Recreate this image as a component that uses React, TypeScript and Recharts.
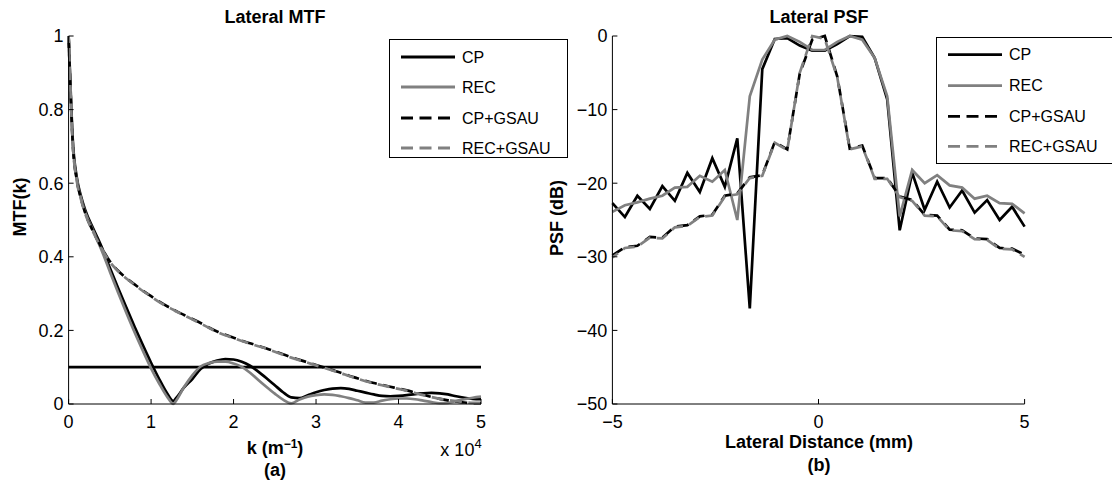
import React from "react";
import { LineChart, Line, XAxis, YAxis, ReferenceLine } from "recharts";

const FONT = "'Liberation Sans', Arial, Helvetica, sans-serif";
const GRAY = "#808080";
const DASH = "12 6.5";

// ---- Lateral MTF (k in units of 1e4 m^-1) ----
const K_SCALED = [
  0, 0.02, 0.05, 0.1, 0.15, 0.2, 0.3, 0.4, 0.5, 0.6, 0.7, 0.8, 0.9, 1.0, 1.1, 1.2, 1.27,
  1.3, 1.4, 1.5, 1.6, 1.7, 1.8, 1.9, 2.0, 2.1, 2.2, 2.3, 2.4, 2.5, 2.6, 2.7, 2.8, 2.9, 3.0,
  3.1, 3.2, 3.3, 3.4, 3.5, 3.6, 3.7, 3.8, 3.9, 4.0, 4.1, 4.2, 4.3, 4.4, 4.5, 4.6, 4.7, 4.8,
  4.9, 5.0,
];
const MTF_CP = [
  1.0, 0.88, 0.72, 0.615, 0.565, 0.528, 0.476, 0.427, 0.37, 0.315, 0.262, 0.21, 0.16, 0.112,
  0.067, 0.027, 0.008, 0.015, 0.045, 0.068, 0.095, 0.11, 0.118, 0.122, 0.121, 0.115, 0.104,
  0.088, 0.07, 0.051, 0.032, 0.018, 0.016, 0.024, 0.032, 0.038, 0.042, 0.043, 0.041, 0.036,
  0.031, 0.026, 0.022, 0.021, 0.022, 0.024, 0.027, 0.029, 0.03, 0.029, 0.026, 0.021, 0.017,
  0.014, 0.013,
];
const MTF_REC = [
  1.0, 0.87, 0.71, 0.61, 0.56, 0.522, 0.47, 0.418, 0.36, 0.303, 0.248, 0.195, 0.145, 0.097,
  0.055, 0.018, 0.0, 0.008, 0.046, 0.078, 0.102, 0.111, 0.115, 0.115, 0.11, 0.101, 0.085,
  0.065, 0.046, 0.028, 0.012, 0.002, 0.012, 0.02, 0.024, 0.026, 0.025, 0.021, 0.016, 0.01,
  0.004, 0.004, 0.009, 0.013, 0.015, 0.015, 0.013, 0.009, 0.005, 0.002, 0.003, 0.008, 0.013,
  0.017, 0.02,
];
const MTF_CP_GSAU = [
  1.0, 0.87, 0.71, 0.608, 0.558, 0.52, 0.468, 0.425, 0.388, 0.362, 0.342, 0.325, 0.308, 0.293,
  0.278, 0.265, 0.257, 0.253, 0.242, 0.231, 0.22, 0.208, 0.197, 0.188, 0.18, 0.172, 0.165,
  0.158, 0.151, 0.143, 0.135, 0.127, 0.12, 0.113, 0.106, 0.099, 0.092, 0.085, 0.077, 0.07,
  0.063, 0.057, 0.052, 0.047, 0.042, 0.037, 0.031, 0.025, 0.019, 0.014, 0.01, 0.007, 0.004,
  0.002, 0.002,
];
const MTF_REC_GSAU = [
  1.0, 0.87, 0.71, 0.605, 0.556, 0.518, 0.466, 0.423, 0.386, 0.361, 0.341, 0.324, 0.307, 0.292,
  0.277, 0.264, 0.256, 0.252, 0.241, 0.23, 0.219, 0.207, 0.196, 0.187, 0.179, 0.171, 0.164,
  0.157, 0.15, 0.142, 0.134, 0.126, 0.119, 0.112, 0.105, 0.098, 0.091, 0.084, 0.076, 0.069,
  0.062, 0.056, 0.051, 0.046, 0.041, 0.036, 0.03, 0.024, 0.019, 0.014, 0.011, 0.008, 0.005,
  0.003, 0.003,
];
const MTF_X_TICKS = [0, 1, 2, 3, 4, 5];
const MTF_Y_TICKS = [0, 0.2, 0.4, 0.6, 0.8, 1];
const MTF_THRESHOLD = 0.1;

// ---- Lateral PSF (mm, dB) ----
const X_MM = [
  -5, -4.697, -4.394, -4.091, -3.788, -3.485, -3.182, -2.879, -2.576, -2.273, -1.97, -1.667,
  -1.364, -1.061, -0.758, -0.455, -0.152, 0.152, 0.455, 0.758, 1.061, 1.364, 1.667, 1.97,
  2.273, 2.576, 2.879, 3.182, 3.485, 3.788, 4.091, 4.394, 4.697, 5,
];
const PSF_CP = [
  -22.7, -24.6, -21.7, -23.5, -20.4, -22.4, -18.6, -21.2, -16.6, -20.5, -13.9, -37.0, -4.5,
  -0.4, -0.3, -1.3, -2.0, -2.0, -1.1, 0, -0.1, -3.0, -8.6, -26.4, -18.6, -23.6, -19.8, -23.3,
  -21.0, -24.0, -22.3, -25.0, -23.2, -25.9,
];
const PSF_REC = [
  -23.9, -23.0, -22.6, -22.1, -21.7, -20.6, -20.5, -19.0, -19.8, -18.2, -25.0, -8.2, -3.2,
  -0.5, 0, -0.8, -1.9, -1.9, -0.8, 0, -0.5, -3.0, -8.2, -24.5, -18.2, -20.0, -18.9, -20.3,
  -20.6, -22.1, -21.7, -22.7, -22.8, -24.1,
];
const PSF_CP_GSAU = [
  -29.8, -28.7, -28.5, -27.3, -27.4, -25.9, -25.7, -24.5, -24.3, -21.7, -21.4, -19.2, -18.9,
  -14.4, -15.4, -5.1, -0.5, 0, -5.5, -15.3, -14.9, -19.3, -19.3, -21.8, -22.3, -24.3, -24.4,
  -26.3, -26.4, -27.5, -27.6, -28.8, -28.9, -29.7,
];
const PSF_REC_GSAU = [
  -30.1, -28.8, -28.6, -27.4, -27.5, -26.0, -25.8, -24.6, -24.4, -21.8, -21.5, -19.3, -19.0,
  -14.5, -15.5, -5.0, 0, -0.4, -5.6, -15.4, -15.0, -19.4, -19.4, -21.9, -22.4, -24.4, -24.5,
  -26.4, -26.5, -27.6, -27.7, -28.9, -29.0, -30.0,
];
const PSF_X_TICKS = [-5, 0, 5];
const PSF_Y_TICKS = [-50, -40, -30, -20, -10, 0];

const SERIES = [
  { key: "cp", name: "CP", color: "#000", dash: undefined as string | undefined, offset: 0 },
  { key: "rec", name: "REC", color: GRAY, dash: undefined as string | undefined, offset: 0 },
  { key: "cpg", name: "CP+GSAU", color: "#000", dash: DASH, offset: 0 },
  { key: "recg", name: "REC+GSAU", color: GRAY, dash: DASH, offset: 5 },
];

const mtfData = K_SCALED.map((k, i) => ({
  k,
  cp: MTF_CP[i],
  rec: MTF_REC[i],
  cpg: MTF_CP_GSAU[i],
  recg: MTF_REC_GSAU[i],
}));

const psfData = X_MM.map((x, i) => ({
  x,
  cp: PSF_CP[i],
  rec: PSF_REC[i],
  cpg: PSF_CP_GSAU[i],
  recg: PSF_REC_GSAU[i],
}));

const minus = (v: number) => (v < 0 ? "\u2212" + Math.abs(v) : String(v));

const tickStyle = { fill: "#000", fontSize: 18, fontFamily: FONT };
const axisLine = { stroke: "#000", strokeWidth: 1 };
const tickLine = { stroke: "#000", strokeWidth: 1 };

function Legend({ left, top, width, height, rows }: { left: number; top: number; width: number; height: number; rows: number[] }) {
  return (
    <svg
      width={width}
      height={height}
      style={{ position: "absolute", left, top, zIndex: 5, overflow: "visible" }}
    >
      <rect x={0.5} y={0.5} width={width - 1} height={height - 1} fill="#fff" stroke="#000" strokeWidth={1} />
      {SERIES.map((s, i) => (
        <g key={s.key}>
          <line
            x1={12}
            x2={66}
            y1={rows[i]}
            y2={rows[i]}
            stroke={s.color}
            strokeWidth={2.8}
            strokeDasharray={s.dash}
          />
          <text x={73} y={rows[i]} dy="0.35em" fontSize={16} fontFamily={FONT} fill="#000">
            {s.name}
          </text>
        </g>
      ))}
    </svg>
  );
}

function Label({ x, y, children, bold = true, size = 18, rotate = false }: any) {
  return (
    <div
      style={{
        position: "absolute",
        left: x,
        top: y,
        transform: `translate(-50%, -50%)${rotate ? " rotate(-90deg)" : ""}`,
        fontFamily: FONT,
        fontSize: size,
        fontWeight: bold ? "bold" : "normal",
        lineHeight: 1,
        whiteSpace: "nowrap",
        color: "#000",
        zIndex: 4,
      }}
    >
      {children}
    </div>
  );
}

function renderLines(curve: "monotone" | "linear") {
  return SERIES.map((s) => (
    <Line
      key={s.key}
      type={curve}
      dataKey={s.key}
      name={s.name}
      stroke={s.color}
      strokeWidth={2.7}
      strokeDasharray={s.dash}
      strokeDashoffset={s.offset}
      dot={false}
      activeDot={false}
      isAnimationActive={false}
    />
  ));
}

export default function App() {
  return (
    <div
      style={{
        position: "absolute",
        left: 0,
        top: 0,
        width: 1112,
        height: 480,
        background: "#fff",
        overflow: "hidden",
        fontFamily: FONT,
      }}
    >
      <div style={{ position: "absolute", left: 0, top: 0 }}>
        <LineChart width={560} height={480} data={mtfData} margin={{ top: 36, right: 79, bottom: 46, left: 18.6 }}>
          <XAxis
            dataKey="k"
            type="number"
            domain={[0, 5]}
            ticks={MTF_X_TICKS}
            interval={0}
            height={30}
            tick={tickStyle}
            tickSize={-5}
            tickMargin={16}
            axisLine={axisLine}
            tickLine={tickLine}
          />
          <XAxis
            xAxisId="top"
            orientation="top"
            type="number"
            domain={[0, 5]}
            ticks={MTF_X_TICKS}
            height={0}
            tick={false}
            tickSize={-5}
            axisLine={axisLine}
            tickLine={tickLine}
          />
          <YAxis
            type="number"
            domain={[0, 1]}
            ticks={MTF_Y_TICKS}
            interval={0}
            width={50}
            tick={tickStyle}
            tickSize={-5}
            tickMargin={10}
            axisLine={axisLine}
            tickLine={tickLine}
          />
          <YAxis
            yAxisId="right"
            orientation="right"
            type="number"
            domain={[0, 1]}
            ticks={MTF_Y_TICKS}
            width={0}
            tick={false}
            tickSize={-5}
            axisLine={axisLine}
            tickLine={tickLine}
          />
          <ReferenceLine y={MTF_THRESHOLD} stroke="#000" strokeWidth={2.7} />
          {renderLines("monotone")}
        </LineChart>
      </div>

      <div style={{ position: "absolute", left: 560, top: 0 }}>
        <LineChart width={552} height={480} data={psfData} margin={{ top: 36, right: 87.4, bottom: 46, left: 2.4 }}>
          <XAxis
            dataKey="x"
            type="number"
            domain={[-5, 5]}
            ticks={PSF_X_TICKS}
            interval={0}
            height={30}
            tick={tickStyle}
            tickFormatter={minus}
            tickSize={-5}
            tickMargin={16}
            axisLine={axisLine}
            tickLine={tickLine}
          />
          <XAxis
            xAxisId="top"
            orientation="top"
            type="number"
            domain={[-5, 5]}
            ticks={PSF_X_TICKS}
            height={0}
            tick={false}
            tickSize={-5}
            axisLine={axisLine}
            tickLine={tickLine}
          />
          <YAxis
            type="number"
            domain={[-50, 0]}
            ticks={PSF_Y_TICKS}
            interval={0}
            width={50}
            tick={tickStyle}
            tickFormatter={minus}
            tickSize={-5}
            tickMargin={10}
            axisLine={axisLine}
            tickLine={tickLine}
          />
          <YAxis
            yAxisId="right"
            orientation="right"
            type="number"
            domain={[-50, 0]}
            ticks={PSF_Y_TICKS}
            width={0}
            tick={false}
            tickSize={-5}
            axisLine={axisLine}
            tickLine={tickLine}
          />
          {renderLines("linear")}
        </LineChart>
      </div>

      <Legend left={389} top={39} width={179} height={119} rows={[18, 48, 79, 109]} />
      <Legend left={935.6} top={37.3} width={182} height={127} rows={[17.7, 48.7, 79.4, 109.4]} />

      <Label x={275} y={16.5}>Lateral MTF</Label>
      <Label x={819} y={16.5}>Lateral PSF</Label>
      <Label x={19.6} y={207} rotate>MTF(k)</Label>
      <Label x={557} y={218} rotate>PSF (dB)</Label>
      <Label x={275} y={448}>
        k (m<sup style={{ fontSize: 12, verticalAlign: "6px", lineHeight: 0 }}>{"\u22121"}</sup>)
      </Label>
      <Label x={275} y={469.5}>(a)</Label>
      <Label x={461} y={450} bold={false} size={18}>
        x 10<sup style={{ fontSize: 13, verticalAlign: "8px", lineHeight: 0 }}>4</sup>
      </Label>
      <Label x={819} y={442}>Lateral Distance (mm)</Label>
      <Label x={819} y={465}>(b)</Label>
    </div>
  );
}
